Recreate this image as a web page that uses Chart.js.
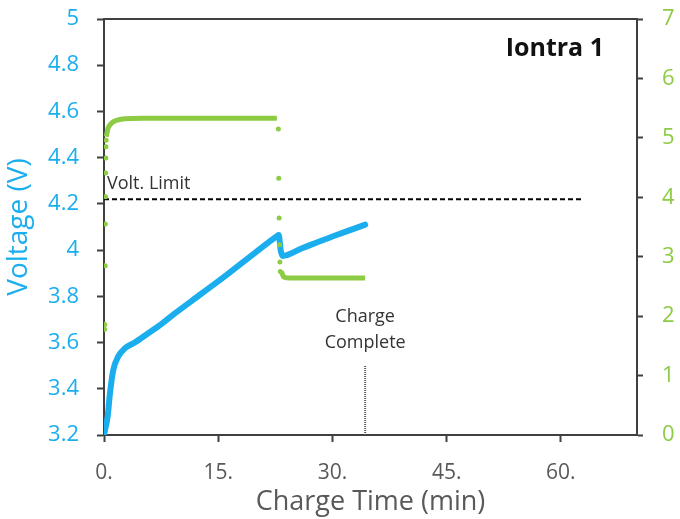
<!DOCTYPE html>
<html>
<head>
<meta charset="utf-8">
<script src="https://cdn.jsdelivr.net/npm/chart.js@4.4.0/dist/chart.umd.min.js"></script>
<style>
  html, body { margin: 0; padding: 0; background: #fff; }
</style>
</head>
<body>
<canvas id="chart" width="680" height="519"></canvas>
<script>
// cell voltage (min, V)
var voltTime  = [0, 0.12, 0.48, 0.78, 1.21, 1.87, 2.74, 4.04, 5.8, 7.53, 9.26, 12.74, 16.2, 19.7, 22.7, 22.95, 23.2, 23.45, 26, 30, 34.3];
var voltValue = [3.2, 3.22, 3.28, 3.38, 3.48, 3.54, 3.575, 3.60, 3.64, 3.68, 3.725, 3.81, 3.895, 3.985, 4.06, 4.065, 4.0, 3.975, 4.008, 4.059, 4.11];

// charge current, first step (min, A)
var stepOneTime = [0.3, 0.5, 0.8, 1.2, 1.8, 2.8, 5, 22.7];
var stepOneAmp  = [5.02, 5.15, 5.22, 5.27, 5.30, 5.32, 5.33, 5.33];
// charge current, second step
var stepTwoTime = [23.3, 23.6, 24.5, 34.3];
var stepTwoAmp  = [2.75, 2.66, 2.64, 2.64];
// sparse samples while the current ramps / drops
var rampTime = [0.08, 0.1, 0.15, 0.17, 0.2, 0.22, 0.24, 0.26, 0.28, 22.9, 22.95, 23.0, 23.05, 23.1, 23.15];
var rampAmp  = [1.78, 1.86, 2.85, 3.55, 4.01, 4.41, 4.66, 4.85, 4.96, 5.15, 4.32, 3.65, 3.2, 2.91, 2.75];

var voltLimit = 4.22;
var limitEnd = 63;
var completeTime = 34.3;
var markerTop = 3.5;

var xTicks = [0, 15, 30, 45, 60];

function pts(xs, ys) {
    var out = [];
    for (var i = 0; i < xs.length; i++) out.push({x: xs[i], y: ys[i]});
    return out;
}

var BLUE = "#1AAEEE";
var GREEN = "#8DCB45";
var AXIS = "#404040";
var TEXT = "#595959";
var FONT = "'Open Sans', sans-serif";

// keep the tick labels from pushing the plot area around
function noVPad(s) { s.paddingTop = 0; s.paddingBottom = 0; }

var extras = {
    id: "extras",
    afterDraw: function(chart) {
        var c = chart.ctx, a = chart.chartArea;
        var xs = chart.scales.x, ys = chart.scales.y;
        c.save();
        // top frame line
        c.strokeStyle = AXIS;
        c.lineWidth = 2;
        c.beginPath();
        c.moveTo(a.left - 1, a.top);
        c.lineTo(a.right + 1, a.top);
        c.stroke();

        c.fillStyle = "#111";
        c.font = "bold 25px " + FONT;
        c.textAlign = "right";
        c.textBaseline = "middle";
        c.fillText("Iontra 1", a.right - 33, a.top + 30);

        c.fillStyle = "#333";
        c.font = "18px " + FONT;
        c.textAlign = "left";
        c.fillText("Volt. Limit", xs.getPixelForValue(0) + 3, ys.getPixelForValue(voltLimit) - 15);

        c.textAlign = "center";
        var cx = xs.getPixelForValue(completeTime);
        var top = ys.getPixelForValue(markerTop);
        c.fillText("Charge", cx, top - 49);
        c.fillText("Complete", cx, top - 23);
        c.restore();
    }
};

new Chart(document.getElementById("chart"), {
    type: "scatter",
    data: {
        datasets: [{
            label: "Current ramp",
            data: pts(rampTime, rampAmp),
            yAxisID: "y2",
            backgroundColor: GREEN,
            borderColor: GREEN,
            pointRadius: 2.5,
            pointBorderWidth: 0,
            order: 0
        }, {
            label: "Current step 1",
            data: pts(stepOneTime, stepOneAmp),
            yAxisID: "y2",
            showLine: true,
            borderColor: GREEN,
            borderWidth: 5,
            pointRadius: 0,
            cubicInterpolationMode: "monotone",
            order: 1
        }, {
            label: "Current step 2",
            data: pts(stepTwoTime, stepTwoAmp),
            yAxisID: "y2",
            showLine: true,
            borderColor: GREEN,
            borderWidth: 5,
            pointRadius: 0,
            cubicInterpolationMode: "monotone",
            order: 1
        }, {
            label: "Voltage",
            data: pts(voltTime, voltValue),
            yAxisID: "y",
            showLine: true,
            borderColor: BLUE,
            borderWidth: 6,
            pointRadius: 0,
            cubicInterpolationMode: "monotone",
            borderCapStyle: "round",
            borderJoinStyle: "round",
            order: 2
        }, {
            label: "Volt. Limit",
            data: [{x: 0, y: voltLimit}, {x: limitEnd, y: voltLimit}],
            yAxisID: "y",
            showLine: true,
            borderColor: "#000",
            borderWidth: 2,
            borderDash: [5, 3],
            pointRadius: 0,
            order: 3
        }, {
            label: "Charge Complete",
            data: [{x: completeTime, y: 3.2}, {x: completeTime, y: markerTop}],
            yAxisID: "y",
            showLine: true,
            borderColor: "#555",
            borderWidth: 2,
            borderDash: [1, 1],
            pointRadius: 0,
            order: 3
        }]
    },
    options: {
        responsive: false,
        animation: false,
        devicePixelRatio: 1,
        layout: { padding: { top: 19, left: 0, right: 0, bottom: 0 } },
        plugins: { legend: { display: false }, tooltip: { enabled: false } },
        scales: {
            x: {
                type: "linear",
                min: 0, max: 70,
                afterBuildTicks: function(s) { s.ticks = xTicks.map(function(v) { return {value: v}; }); },
                afterFit: function(s) { s.height = 84; s.paddingLeft = 0; s.paddingRight = 0; },
                ticks: {
                    color: TEXT, padding: 18,
                    font: { family: FONT, size: 21 },
                    callback: function(v) { return v + "."; }
                },
                grid: { drawOnChartArea: false, drawTicks: true, tickLength: 7, tickColor: AXIS, tickWidth: 2 },
                border: { color: AXIS, width: 2 },
                title: { display: true, text: "Charge Time (min)", color: TEXT, font: { family: FONT, size: 27 }, padding: { top: 0, bottom: 0 } }
            },
            y: {
                position: "left",
                min: 3.2, max: 5,
                afterFit: function(s) { s.width = 104; noVPad(s); },
                ticks: {
                    stepSize: 0.2, color: BLUE, padding: 18,
                    font: { family: FONT, size: 22 },
                    callback: function(v) { return String(Math.round(v * 10) / 10); }
                },
                grid: { drawOnChartArea: false, drawTicks: true, tickLength: 7, tickColor: AXIS, tickWidth: 2 },
                border: { color: AXIS, width: 2 },
                title: { display: true, text: "Voltage (V)", color: BLUE, font: { family: FONT, size: 28 }, padding: { top: 2, bottom: 0 } }
            },
            y2: {
                position: "right",
                min: 0, max: 7,
                afterFit: function(s) { s.width = 43; noVPad(s); },
                ticks: {
                    stepSize: 1, color: GREEN, padding: 19,
                    font: { family: FONT, size: 22 }
                },
                grid: { drawOnChartArea: false, drawTicks: true, tickLength: 6, tickColor: AXIS, tickWidth: 2 },
                border: { color: AXIS, width: 2 }
            }
        }
    },
    plugins: [extras]
});
</script>
</body>
</html>
